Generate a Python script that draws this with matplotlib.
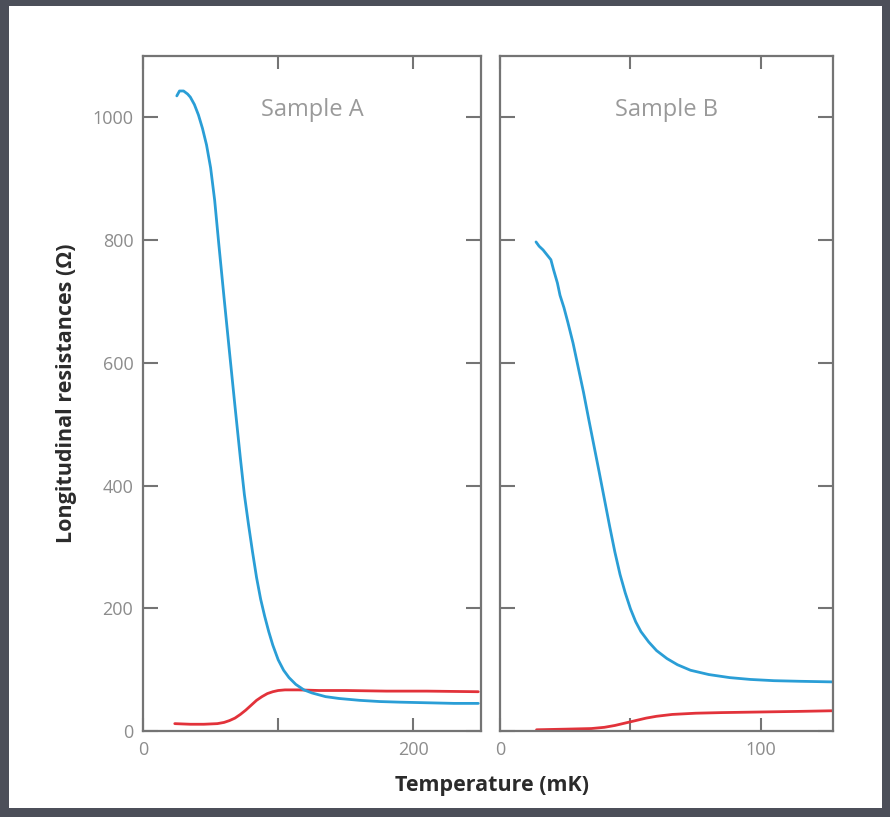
import matplotlib.pyplot as plt
from matplotlib.patches import Rectangle

# Sample A (temperature in mK, resistance in Ohm)
tA_blue = [25, 27, 30, 33, 35, 38, 41, 44, 47, 50, 53, 56, 60, 64, 68, 72, 75,
           78, 81, 84, 87, 90, 93, 96, 100, 104, 108, 113, 119, 125, 135, 145,
           160, 175, 190, 210, 230, 248]
rA_blue = [1035, 1043, 1043, 1038, 1033, 1021, 1004, 982, 955, 918, 865, 795,
           705, 617, 530, 445, 385, 337, 292, 250, 215, 187, 162, 140, 116, 99,
           87, 76, 67, 62, 56, 53, 50, 48, 47, 46, 45, 45]
tA_red = [23.5, 35, 45, 55, 60, 64, 68, 72, 76, 80, 84, 88, 92, 96, 100, 105,
          115, 130, 150, 180, 210, 248]
rA_red = [12, 11, 11, 12, 14, 17, 21, 27, 34, 42, 50, 56, 61, 64, 66, 67, 67,
          66, 66, 65, 65, 64]

# Sample B
tB_blue = [13.8, 15, 16.5, 18, 19.5, 20.5, 22, 23, 24.5, 26, 28, 30, 32, 34, 36,
           38, 40, 42, 44, 46, 48, 50, 52, 54, 57, 60, 64, 68, 73, 80, 88, 96,
           105, 115, 127.6]
rB_blue = [797, 790, 784, 776, 768, 752, 730, 710, 690, 666, 632, 592, 552, 508,
           465, 422, 378, 334, 292, 255, 225, 199, 178, 162, 145, 131, 118, 108,
           99, 92, 87, 84, 82, 81, 80]
tB_red = [14, 25, 35, 40, 44, 48, 52, 56, 60, 66, 75, 85, 100, 115, 127.6]
rB_red = [2, 3, 4, 6, 9, 13, 17, 21, 24, 27, 29, 30, 31, 32, 33]

BLUE = "#2a9ed6"
RED = "#e2323a"
GRAY = "#747474"
LABEL_GRAY = "#8c8c8c"

plt.rcParams['font.family'] = ['Open Sans', 'DejaVu Sans']

fig = plt.figure(figsize=(8.9, 8.17), dpi=100)
fig.patch.set_facecolor("#4c4f59")
fig.patches.append(Rectangle((9 / 890, 1 - 808 / 817), (882 - 9) / 890, (808 - 6) / 817,
                             transform=fig.transFigure, facecolor="white",
                             edgecolor="none", zorder=-5))

axA = fig.add_axes([143 / 890, 1 - 731 / 817, 338 / 890, 675 / 817])
axB = fig.add_axes([500 / 890, 1 - 731 / 817, 333 / 890, 675 / 817])

for ax, tb, rb, tr, rr in ((axA, tA_blue, rA_blue, tA_red, rA_red),
                           (axB, tB_blue, rB_blue, tB_red, rB_red)):
    ax.plot(tr, rr, color=RED, lw=2.0, solid_capstyle="round", solid_joinstyle="round")
    ax.plot(tb, rb, color=BLUE, lw=2.0, solid_capstyle="round", solid_joinstyle="round")

axA.set_xlim(0, 250)
axB.set_xlim(0, 127.6)
axA.set_xticks([0, 100, 200])
axA.set_xticklabels(["0", "", "200"])
axB.set_xticks([0, 50, 100])
axB.set_xticklabels(["0", "", "100"])

for ax in (axA, axB):
    ax.set_ylim(0, 1100)
    ax.set_yticks([0, 200, 400, 600, 800, 1000])
    ax.tick_params(axis="y", length=10.5)
    ax.tick_params(axis="x", length=9.5)
    ax.tick_params(direction="in", width=1.5, color=GRAY,
                   labelcolor=LABEL_GRAY, labelsize=13, top=True, right=True,
                   pad=7)
    for s in ax.spines.values():
        s.set_color(GRAY)
        s.set_linewidth(1.6)
axB.tick_params(labelleft=False)

axA.text(0.5, 0.92, "Sample A", transform=axA.transAxes, ha="center", va="center",
         color="#9a9a9a", fontsize=17)
axB.text(0.5, 0.92, "Sample B", transform=axB.transAxes, ha="center", va="center",
         color="#9a9a9a", fontsize=17)

fig.text(67 / 890, 1 - 393 / 817, "Longitudinal resistances (\u03a9)", rotation=90,
         ha="center", va="center", fontsize=15.5, fontweight="bold", color="#2b2b2b")
fig.text(492 / 890, 1 - 785 / 817, "Temperature (mK)", ha="center", va="center",
         fontsize=15.5, fontweight="bold", color="#2b2b2b")

fig.savefig("out.png", dpi=100, facecolor=fig.get_facecolor())
